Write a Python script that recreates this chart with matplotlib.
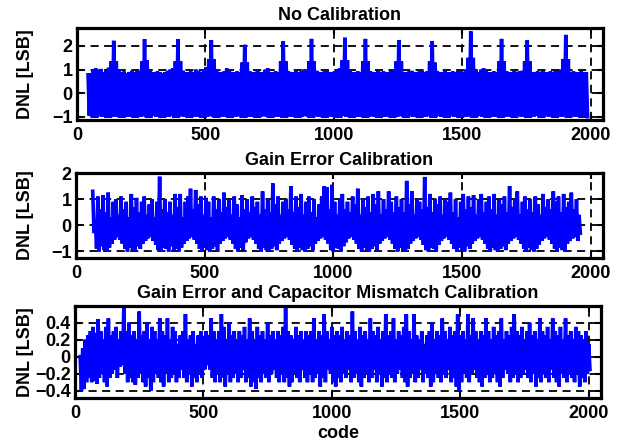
import numpy as np
import matplotlib
matplotlib.use("Agg")
import matplotlib.pyplot as plt

# ---------------- data ----------------
titles = ["No Calibration", "Gain Error Calibration",
          "Gain Error and Capacitor Mismatch Calibration"]
x_label = "code"
y_label = "DNL [LSB]"
x_ticks = [0, 500, 1000, 1500, 2000]
x_limits = (0, 2048)

y_ticks_1 = [-1, 0, 1, 2]
y_ticks_2 = [-1, 0, 1, 2]
y_ticks_3 = [-0.4, -0.2, 0, 0.2, 0.4]
y_ticklabels_3 = ["\u22120.4", "\u22120.2", "0", "0.2", "0.4"]
y_limits_1 = (-1.13, 2.76)
y_limits_2 = (-1.25, 2.0)
y_limits_3 = (-0.485, 0.595)

code_step = 10  # one local maximum and one local minimum per 10 codes

# No calibration: first code and local maxima / minima
nocal_start = 43
nocal_high = [
    0.78, 0.85, 1.02, 1.05, 0.98, 1.03, 0.90, 0.95, 1.08, 1.35,
    2.22, 1.35, 1.00, 0.88, 0.92, 0.85, 0.90, 0.95, 0.88, 0.92,
    0.95, 1.35, 2.29, 1.40, 0.95, 0.90, 0.88, 0.92, 0.90, 0.85,
    0.90, 0.95, 1.00, 1.05, 1.35, 2.29, 1.35, 0.95, 0.88, 0.90,
    0.92, 0.88, 1.00, 0.95, 0.90, 1.00, 1.10, 1.45, 2.25, 1.45,
    1.00, 0.90, 0.88, 0.92, 1.05, 0.95, 0.90, 0.88, 0.92, 0.90,
    1.30, 2.05, 1.30, 0.92, 0.88, 0.90, 0.95, 0.90, 0.88, 1.00,
    1.05, 0.90, 0.88, 0.92, 0.90, 1.35, 2.20, 1.35, 0.92, 0.90,
    0.88, 0.95, 0.90, 0.92, 1.00, 1.00, 1.35, 2.30, 1.35, 0.95,
    0.90, 0.88, 0.92, 0.95, 0.90, 0.88, 0.92, 0.98, 1.05, 1.40,
    2.35, 1.40, 0.95, 0.90, 0.88, 0.92, 0.90, 1.35, 2.30, 1.35,
    0.92, 0.90, 0.88, 0.95, 0.90, 0.92, 0.88, 0.90, 0.95, 0.92,
    1.35, 2.25, 1.35, 0.90, 0.88, 0.92, 0.95, 0.90, 0.88, 0.92,
    0.95, 0.90, 0.92, 1.35, 2.20, 1.30, 0.92, 0.88, 0.90, 0.95,
    0.90, 0.88, 0.92, 0.90, 0.95, 0.92, 0.90, 1.00, 1.50, 2.62,
    1.50, 0.95, 0.90, 1.00, 1.05, 0.92, 0.90, 0.88, 0.92, 0.90,
    1.35, 2.30, 1.35, 0.92, 0.90, 0.88, 0.95, 0.90, 0.92, 0.95,
    1.35, 2.24, 1.35, 0.90, 0.88, 0.92, 0.90, 0.95, 0.90, 0.88,
    0.92, 0.90, 0.95, 0.92, 1.00, 1.45, 2.47, 1.45, 0.90, 0.92,
    0.88, 0.90, 0.92, 0.90, 0.88,
]
nocal_low = [
    -0.95, -1.00, -0.98, -1.00, -0.97, -1.00, -0.99, -1.00, -0.96, -1.00,
    -1.00, -0.98, -1.00, -0.97, -1.00, -0.99, -1.00, -0.95, -1.00, -0.98,
    -1.00, -0.97, -1.00, -0.99, -1.00, -0.96, -1.00, -0.98, -1.00, -0.97,
    -0.99, -1.00, -0.96, -1.00, -0.98, -1.00, -0.97, -1.00, -0.99, -0.95,
    -1.00, -0.98, -1.00, -0.97, -1.00, -0.99, -1.00, -0.96, -1.00, -0.98,
    -0.97, -1.00, -0.99, -1.00, -0.95, -1.00, -0.98, -1.00, -0.97, -1.00,
    -1.00, -0.96, -1.00, -0.98, -1.00, -0.97, -0.99, -1.00, -0.95, -1.00,
    -0.98, -1.00, -0.97, -1.00, -0.99, -1.00, -0.96, -1.00, -0.98, -1.00,
    -1.00, -0.97, -1.00, -0.99, -0.95, -1.00, -0.98, -1.00, -0.97, -1.00,
    -0.99, -1.00, -0.96, -1.00, -0.98, -1.00, -0.97, -1.00, -0.99, -0.95,
    -1.00, -0.98, -1.00, -0.97, -1.00, -0.99, -1.00, -0.96, -1.00, -0.98,
    -0.97, -1.00, -0.99, -1.00, -0.95, -1.00, -0.98, -1.00, -0.97, -1.00,
    -1.00, -0.96, -1.00, -0.98, -1.00, -0.97, -0.99, -1.00, -0.95, -1.00,
    -0.98, -1.00, -0.97, -1.00, -0.99, -1.00, -0.96, -1.00, -0.98, -1.00,
    -1.00, -0.97, -1.00, -0.99, -0.95, -1.00, -0.98, -1.00, -0.97, -1.00,
    -0.99, -1.00, -0.96, -1.00, -0.98, -1.00, -0.97, -1.00, -0.99, -0.95,
    -1.00, -0.98, -1.00, -0.97, -1.00, -0.99, -1.00, -0.96, -1.00, -0.98,
    -0.97, -1.00, -0.99, -1.00, -0.95, -1.00, -0.98, -1.00, -0.97, -1.00,
    -1.00, -0.96, -1.00, -0.98, -1.00, -0.97, -0.99, -1.00, -0.95, -1.00,
    -0.98, -1.00, -0.97, -1.00, -0.99,
]

# Gain error calibration
gaincal_start = 65
gaincal_high = [
    1.30, 0.20, 1.10, 0.60, 1.15, 0.50, 1.25, 0.30, 0.90, 1.00,
    0.40, 1.10, 0.60, 0.90, 0.30, 1.20, 0.70, 1.05, 0.50, 0.90,
    1.10, 0.40, 0.80, 1.00, 0.30, 0.90, 1.86, 0.60, 1.00, 0.50,
    0.90, 0.40, 1.20, 0.70, 1.20, 0.30, 0.90, 1.10, 1.40, 0.60,
    1.35, 0.80, 1.10, 0.40, 1.05, 0.90, 0.30, 1.10, 0.60, 1.00,
    0.50, 1.25, 0.70, 1.00, 0.40, 1.10, 0.80, 0.30, 1.15, 0.60,
    1.00, 0.50, 1.10, 0.70, 0.90, 0.40, 1.30, 0.60, 1.00, 0.50,
    1.60, 0.80, 1.10, 0.40, 0.90, 1.00, 0.60, 1.50, 0.50, 1.10,
    0.70, 1.20, 0.40, 0.90, 1.10, 0.50, 1.00, 0.30, 0.80, 1.10,
    1.50, 1.45, 0.60, 1.55, 0.90, 0.40, 1.00, 1.20, 0.60, 0.90,
    0.50, 1.10, 0.80, 1.40, 0.40, 1.00, 0.70, 1.10, 0.50, 1.20,
    0.80, 1.30, 0.40, 1.00, 0.60, 1.30, 0.90, 0.50, 1.10, 0.70,
    1.00, 0.50, 1.70, 0.80, 1.30, 0.40, 1.00, 0.90, 0.60, 1.85,
    0.70, 1.20, 0.50, 1.00, 0.80, 1.10, 0.40, 1.00, 0.90, 1.25,
    0.50, 1.00, 0.30, 0.90, 1.20, 0.60, 1.10, 0.70, 1.15, 0.40,
    1.00, 1.20, 0.50, 0.90, 1.10, 0.60, 1.20, 0.40, 1.00, 0.80,
    1.10, 0.50, 1.50, 0.70, 1.00, 1.30, 0.40, 0.90, 1.10, 0.60,
    1.00, 0.50, 1.10, 0.80, 0.40, 1.20, 0.70, 1.00, 0.60, 1.30,
    0.90, 1.10, 0.50, 1.20, 0.70, 0.90, 1.25, 0.60, 1.00, 0.40,
]
gaincal_low = [
    -0.30, -0.90, -1.00, -0.80, -0.95, -1.00, -0.85, -0.70, -0.55, -0.45,
    -0.55, -0.70, -0.90, -1.00, -0.85, -0.95, -1.00, -0.80, -0.90, -0.70,
    -0.60, -0.50, -0.45, -0.60, -0.75, -0.95, -1.00, -0.85, -0.90, -1.00,
    -0.80, -0.95, -0.90, -1.00, -0.85, -0.70, -0.60, -0.50, -0.45, -0.55,
    -0.70, -0.90, -1.00, -0.85, -0.95, -1.00, -0.90, -0.80, -0.95, -0.70,
    -0.60, -0.50, -0.45, -0.55, -0.70, -0.90, -1.00, -0.85, -0.95, -0.65,
    -0.50, -0.45, -0.55, -0.70, -0.90, -1.00, -0.85, -0.95, -1.00, -0.90,
    -0.80, -0.95, -0.70, -0.60, -0.50, -0.45, -0.55, -0.75, -0.90, -1.00,
    -0.85, -0.95, -1.00, -0.90, -0.80, -0.95, -0.70, -0.60, -0.50, -0.45,
    -0.55, -0.70, -0.95, -1.00, -0.85, -0.90, -1.00, -0.80, -0.65, -0.50,
    -0.45, -0.55, -0.70, -0.90, -1.00, -0.85, -0.95, -1.00, -0.90, -0.80,
    -0.95, -0.70, -0.60, -0.50, -0.45, -0.55, -0.70, -0.90, -1.00, -0.85,
    -0.95, -1.00, -0.90, -0.70, -0.60, -0.50, -0.45, -0.55, -0.75, -0.95,
    -1.00, -0.85, -0.90, -1.00, -0.75, -0.60, -0.50, -0.45, -0.55, -0.70,
    -0.90, -1.00, -0.85, -0.95, -1.00, -0.80, -0.90, -0.70, -0.60, -0.50,
    -0.45, -0.55, -0.70, -0.90, -1.00, -0.85, -0.95, -1.00, -0.90, -0.80,
    -0.95, -0.70, -0.60, -0.50, -0.45, -0.55, -0.70, -0.90, -1.00, -0.85,
    -0.95, -1.00, -0.90, -0.75, -0.60, -0.50, -0.45, -0.55, -0.70, -0.90,
    -1.00, -0.85, -0.95, -1.00, -0.70, -0.60, -0.50, -0.45, -0.60, -0.30,
]

# Gain error and capacitor mismatch calibration
fullcal_start = 20
fullcal_high = [
    0.00, 0.10, 0.20, 0.25, 0.30, 0.35, 0.28, 0.44, 0.30, 0.20,
    0.35, 0.45, 0.25, 0.30, 0.35, 0.20, 0.30, 0.57, 0.30, 0.40,
    0.25, 0.30, 0.20, 0.53, 0.25, 0.30, 0.40, 0.20, 0.35, 0.30,
    0.20, 0.45, 0.30, 0.25, 0.45, 0.20, 0.35, 0.30, 0.15, 0.25,
    0.30, 0.50, 0.20, 0.25, 0.30, 0.15, 0.25, 0.30, 0.20, 0.30,
    0.25, 0.45, 0.30, 0.20, 0.30, 0.50, 0.35, 0.20, 0.40, 0.25,
    0.30, 0.20, 0.30, 0.25, 0.35, 0.20, 0.45, 0.30, 0.20, 0.35,
    0.25, 0.30, 0.20, 0.40, 0.25, 0.30, 0.20, 0.30, 0.25, 0.35,
    0.57, 0.30, 0.25, 0.20, 0.35, 0.25, 0.30, 0.20, 0.30, 0.25,
    0.30, 0.45, 0.20, 0.30, 0.25, 0.50, 0.30, 0.20, 0.35, 0.25,
    0.30, 0.25, 0.35, 0.20, 0.30, 0.25, 0.53, 0.30, 0.20, 0.35,
    0.25, 0.30, 0.20, 0.45, 0.30, 0.25, 0.35, 0.20, 0.30, 0.50,
    0.25, 0.30, 0.45, 0.20, 0.30, 0.25, 0.35, 0.50, 0.30, 0.20,
    0.50, 0.25, 0.20, 0.30, 0.15, 0.25, 0.30, 0.40, 0.20, 0.30,
    0.25, 0.45, 0.30, 0.20, 0.35, 0.25, 0.30, 0.50, 0.25, 0.30,
    0.20, 0.50, 0.25, 0.45, 0.30, 0.20, 0.30, 0.25, 0.45, 0.30,
    0.20, 0.35, 0.25, 0.30, 0.45, 0.20, 0.30, 0.25, 0.35, 0.50,
    0.30, 0.25, 0.35, 0.20, 0.30, 0.40, 0.25, 0.30, 0.20, 0.45,
    0.30, 0.25, 0.35, 0.20, 0.45, 0.30, 0.25, 0.35, 0.20, 0.45,
    0.25, 0.30, 0.20, 0.35, 0.30, 0.25, 0.20, 0.30, 0.15,
]
fullcal_low = [
    -0.40, -0.38, -0.30, -0.25, -0.30, -0.28, -0.32, -0.25, -0.20, -0.30,
    -0.35, -0.25, -0.20, -0.15, -0.25, -0.12, -0.10, -0.20, -0.30, -0.25,
    -0.30, -0.33, -0.25, -0.20, -0.30, -0.35, -0.25, -0.40, -0.30, -0.20,
    -0.25, -0.30, -0.35, -0.20, -0.30, -0.25, -0.20, -0.30, -0.25, -0.15,
    -0.25, -0.30, -0.20, -0.35, -0.25, -0.30, -0.20, -0.25, -0.15, -0.10,
    -0.15, -0.25, -0.30, -0.20, -0.30, -0.25, -0.35, -0.20, -0.30, -0.25,
    -0.20, -0.30, -0.25, -0.15, -0.30, -0.25, -0.35, -0.30, -0.38, -0.25,
    -0.30, -0.20, -0.25, -0.30, -0.20, -0.15, -0.25, -0.30, -0.20, -0.30,
    -0.25, -0.35, -0.30, -0.20, -0.25, -0.30, -0.15, -0.25, -0.30, -0.20,
    -0.30, -0.25, -0.20, -0.35, -0.25, -0.30, -0.15, -0.20, -0.30, -0.35,
    -0.25, -0.30, -0.20, -0.25, -0.15, -0.30, -0.25, -0.20, -0.30, -0.35,
    -0.25, -0.20, -0.30, -0.25, -0.15, -0.30, -0.20, -0.35, -0.25, -0.30,
    -0.20, -0.25, -0.30, -0.20, -0.15, -0.25, -0.30, -0.35, -0.25, -0.20,
    -0.30, -0.25, -0.15, -0.30, -0.20, -0.25, -0.35, -0.30, -0.20, -0.25,
    -0.30, -0.20, -0.25, -0.15, -0.30, -0.25, -0.35, -0.40, -0.30, -0.20,
    -0.25, -0.30, -0.20, -0.15, -0.25, -0.30, -0.35, -0.25, -0.20, -0.30,
    -0.25, -0.20, -0.30, -0.35, -0.25, -0.15, -0.20, -0.30, -0.25, -0.20,
    -0.30, -0.25, -0.20, -0.15, -0.25, -0.30, -0.20, -0.35, -0.25, -0.30,
    -0.20, -0.25, -0.30, -0.15, -0.25, -0.30, -0.35, -0.20, -0.25, -0.30,
    -0.20, -0.25, -0.30, -0.20, -0.35, -0.25, -0.30, -0.20, -0.15,
]

# ---------------- style ----------------
plt.rcParams["font.family"] = ["Liberation Sans", "DejaVu Sans"]
plt.rcParams["font.weight"] = "bold"
plt.rcParams["axes.titleweight"] = "bold"
plt.rcParams["axes.labelweight"] = "bold"


def interleave(start, highs, lows, step):
    codes, vals = [], []
    for i, (h, l) in enumerate(zip(highs, lows)):
        codes.append(start + step * i)
        vals.append(h)
        codes.append(start + step * i + step / 2)
        vals.append(l)
    return codes, vals


panels = [
    (titles[0], nocal_start, nocal_high, nocal_low, y_ticks_1, None, y_limits_1),
    (titles[1], gaincal_start, gaincal_high, gaincal_low, y_ticks_2, None, y_limits_2),
    (titles[2], fullcal_start, fullcal_high, fullcal_low, y_ticks_3, y_ticklabels_3, y_limits_3),
]

# axes rectangles in pixels (left, top, right, bottom) of a 628x443 figure
W, H = 628, 443
rects_px = [(77, 28, 603, 120), (76, 173, 603, 258), (75, 306, 601, 398)]

fig = plt.figure(figsize=(W / 100, H / 100), dpi=100)

for k, (title, start, highs, lows, yt, ytl, ylim) in enumerate(panels):
    l, t, r, b = rects_px[k]
    ax = fig.add_axes([l / W, (H - b) / H, (r - l) / W, (b - t) / H])
    codes, vals = interleave(start, highs, lows, code_step)
    ax.plot(codes, vals, color=(0, 0, 1), linewidth=2.6, solid_joinstyle="miter")
    ax.set_xlim(*x_limits)
    ax.set_ylim(*ylim)
    ax.set_xticks(x_ticks)
    ax.set_yticks(yt)
    if ytl is not None:
        ax.set_yticklabels(ytl)
    ax.set_axisbelow(True)
    ax.grid(True, color="black", linestyle=(0, (4.5, 3)), linewidth=1.3)
    for s in ax.spines.values():
        s.set_linewidth(2.3)
        s.set_color("black")
    ax.tick_params(direction="in", length=4, width=1.5, top=True, right=True,
                   labelsize=13, pad=5)
    ax.tick_params(axis="y", pad=3)
    ax.set_title(title, fontsize=13, fontweight="bold", pad=6)
    ax.set_ylabel(y_label, fontsize=13, fontweight="bold")
    ax.yaxis.set_label_coords((34 - l) / (r - l), 0.5)
    if k == 2:
        ax.set_xlabel(x_label, fontsize=13, fontweight="bold", labelpad=2)

fig.savefig("out.png", dpi=100)
